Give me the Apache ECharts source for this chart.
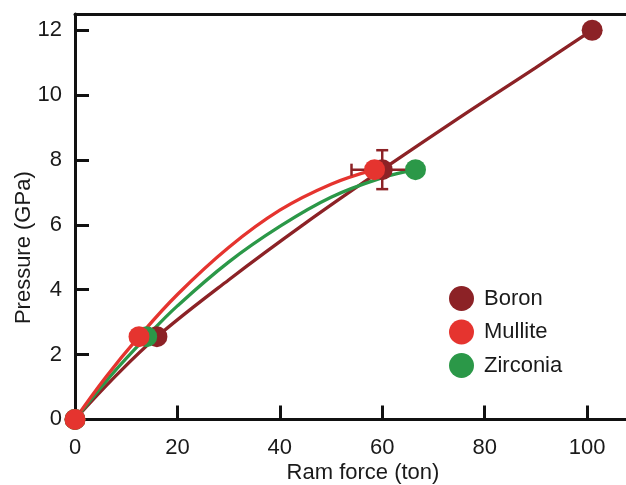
<!DOCTYPE html>
<html>
<head>
<meta charset="utf-8">
<script src="https://cdn.jsdelivr.net/npm/echarts@6/dist/echarts.min.js"></script>
<style>
  html, body { margin: 0; padding: 0; background: #fff; }
  #chart { width: 626px; height: 485px; }
</style>
</head>
<body>
<div id="chart"></div>
<script>
// Measured points: [ram force (ton), pressure (GPa)]
const boronPoints    = [[0, 0], [16, 2.55], [60, 7.7], [101, 12]];
const mullitePoints  = [[0, 0], [12.5, 2.55], [58.5, 7.7]];
const zirconiaPoints = [[0, 0], [14, 2.55], [66.5, 7.7]];

// Calibration curves traced through each material's points
const boronCurve    = [[0, 0], [8, 1.35], [16, 2.55], [30, 4.3], [45, 6.05], [60, 7.7], [75, 9.3], [90, 10.85], [101, 12]];
const mulliteCurve  = [[0, 0], [6, 1.3], [12.5, 2.55], [20, 3.85], [30, 5.3], [40, 6.45], [50, 7.25], [58.5, 7.7]];
const zirconiaCurve = [[0, 0], [7, 1.35], [14, 2.55], [20, 3.5], [30, 4.85], [40, 5.95], [50, 6.85], [60, 7.45], [66.5, 7.7]];

// Error bar on the boron point: [x, y, x error, y error]
const boronError = [[60, 7.7, 6, 0.6]];

const xTicks = [0, 20, 40, 60, 80, 100];
const yTicks = [0, 2, 4, 6, 8, 10, 12];

const materials = ['Boron', 'Mullite', 'Zirconia'];
const colors = { Boron: '#8c2226', Mullite: '#e5342f', Zirconia: '#2b9848' };

const FONT = 'Liberation Sans, Arial, sans-serif';
const AXIS_COLOR = '#111';

const chart = echarts.init(document.getElementById('chart'), null, { renderer: 'canvas' });

function curveSeries(name, data) {
  return {
    type: 'line', name: name + ' curve', data: data,
    smooth: 0.4, showSymbol: false, symbol: 'none',
    lineStyle: { color: colors[name], width: 3.3 },
    silent: true, z: 2
  };
}

function pointSeries(name, data, z) {
  return {
    type: 'scatter', name: name, data: data,
    symbol: 'circle', symbolSize: 21,
    itemStyle: { color: colors[name], opacity: 1 },
    z: z
  };
}

const option = {
  animation: false,
  backgroundColor: '#fff',
  grid: { left: 75, top: 14, width: 553, height: 405.4, containLabel: false, outerBoundsMode: 'none' },
  legend: {
    data: materials.map(n => ({ name: n, icon: 'circle' })),
    orient: 'vertical',
    left: 449, top: 286,
    padding: 0,
    itemWidth: 25, itemHeight: 25, itemGap: 8.5,
    textStyle: { fontFamily: FONT, fontSize: 22, color: '#1a1a1a', padding: [0, 0, 0, 5] }
  },
  xAxis: [{
    type: 'value', position: 'bottom',
    min: 0, max: 108,
    name: 'Ram force (ton)', nameLocation: 'middle', nameGap: 43, nameMoveOverlap: false,
    nameTextStyle: { fontFamily: FONT, fontSize: 22, color: '#1a1a1a', padding: [0, 0, 0, 23] },
    axisLine: { show: true, onZero: false, lineStyle: { color: AXIS_COLOR, width: 3 } },
    axisTick: { show: true, inside: true, length: 14, lineStyle: { color: AXIS_COLOR, width: 3 }, customValues: xTicks },
    axisLabel: { fontFamily: FONT, fontSize: 22, color: '#1a1a1a', margin: 18, customValues: xTicks },
    splitLine: { show: false }
  }, {
    type: 'value', position: 'top',
    min: 0, max: 108,
    axisLine: { show: true, onZero: false, lineStyle: { color: AXIS_COLOR, width: 3 } },
    axisTick: { show: false }, axisLabel: { show: false }, splitLine: { show: false }
  }],
  yAxis: {
    type: 'value',
    min: 0, max: 12.5,
    name: 'Pressure (GPa)', nameLocation: 'middle', nameGap: 40, nameMoveOverlap: false,
    nameTextStyle: { fontFamily: FONT, fontSize: 22, color: '#1a1a1a', padding: [0, 62, 0, 0] },
    axisLine: { show: true, onZero: false, lineStyle: { color: AXIS_COLOR, width: 3 } },
    axisTick: { show: true, inside: true, length: 14, lineStyle: { color: AXIS_COLOR, width: 3 }, customValues: yTicks },
    axisLabel: { fontFamily: FONT, fontSize: 22, color: '#1a1a1a', margin: 13, customValues: yTicks },
    splitLine: { show: false }
  },
  series: [
    curveSeries('Boron', boronCurve),
    curveSeries('Zirconia', zirconiaCurve),
    curveSeries('Mullite', mulliteCurve),
    pointSeries('Boron', boronPoints, 3),
    {
      type: 'custom', name: 'Boron error', data: boronError, z: 4, silent: true,
      renderItem: function (params, api) {
        const x = api.value(0), y = api.value(1), ex = api.value(2), ey = api.value(3);
        const left = api.coord([x - ex, y]), right = api.coord([x + ex, y]);
        const top = api.coord([x, y + ey]), bottom = api.coord([x, y - ey]);
        const cap = 6;
        const style = { stroke: colors.Boron, lineWidth: 2.5, fill: null };
        const line = (x1, y1, x2, y2) => ({ type: 'line', shape: { x1, y1, x2, y2 }, style });
        return {
          type: 'group',
          children: [
            line(left[0], left[1], right[0], right[1]),
            line(left[0], left[1] - cap, left[0], left[1] + cap),
            line(right[0], right[1] - cap, right[0], right[1] + cap),
            line(top[0], top[1], bottom[0], bottom[1]),
            line(top[0] - cap, top[1], top[0] + cap, top[1]),
            line(bottom[0] - cap, bottom[1], bottom[0] + cap, bottom[1])
          ]
        };
      }
    },
    pointSeries('Zirconia', zirconiaPoints, 5),
    pointSeries('Mullite', mullitePoints, 6)
  ]
};

chart.setOption(option);
</script>
</body>
</html>
